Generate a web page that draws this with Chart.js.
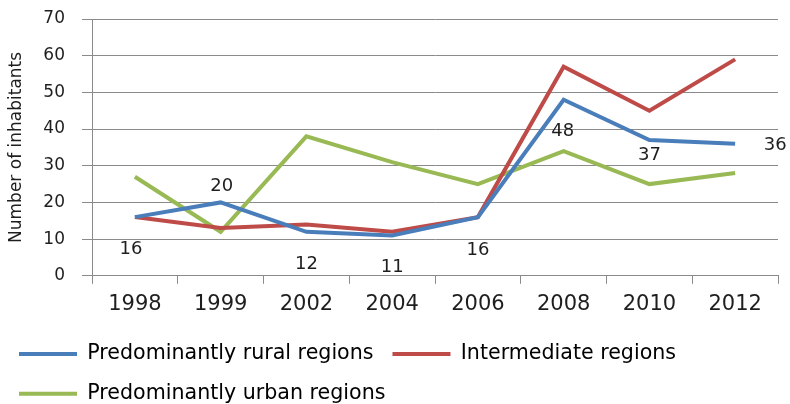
<!DOCTYPE html>
<html>
<head>
<meta charset="utf-8">
<script src="https://cdn.jsdelivr.net/npm/chart.js@4/dist/chart.umd.min.js"></script>
<style>
  html, body { margin: 0; padding: 0; background: #ffffff; overflow: hidden; }
  #wrap { width: 790px; height: 404px; position: relative; }
</style>
</head>
<body>
<div id="wrap"><canvas id="c" width="790" height="404"></canvas></div>
<script>
// ---- data ----
const years = ["1998", "1999", "2002", "2004", "2006", "2008", "2010", "2012"];
const rural = [16, 20, 12, 11, 16, 48, 37, 36];
const intermediate = [16, 13, 14, 12, 16, 57, 45, 59];
const urban = [27, 12, 38, 31, 25, 34, 25, 28];
const seriesNames = ["Predominantly rural regions", "Intermediate regions", "Predominantly urban regions"];
const yTicks = [0, 10, 20, 30, 40, 50, 60, 70];
const yTitle = "Number of inhabitants";

// ---- styles ----
const FONT = "'DejaVu Sans', Verdana, sans-serif";
const GRID = "#8a8a8a";
// label offsets (dx, dy) for the rural series value labels
const labelOffsets = [[-4, 32], [1, -16], [0, 33], [0, 32], [0, 33], [-1, 32], [0, 15], [40, 2]];

const valueLabels = {
  id: 'valueLabels',
  afterDatasetsDraw(chart) {
    const meta = chart.getDatasetMeta(0);
    const ds = chart.data.datasets[0];
    const ctx = chart.ctx;
    ctx.save();
    ctx.font = "18px " + FONT;
    ctx.fillStyle = "#1e1e1e";
    ctx.textAlign = "center";
    ctx.textBaseline = "middle";
    meta.data.forEach((pt, i) => {
      const off = labelOffsets[i] || [0, 0];
      ctx.fillText(String(ds.data[i]), pt.x + off[0], pt.y + off[1]);
    });
    ctx.restore();
  }
};

new Chart(document.getElementById('c'), {
  type: 'line',
  data: {
    labels: years,
    datasets: [
      { label: seriesNames[0], data: rural, borderColor: '#4A7EBB', backgroundColor: '#4A7EBB' },
      { label: seriesNames[1], data: intermediate, borderColor: '#BE4B48', backgroundColor: '#BE4B48' },
      { label: seriesNames[2], data: urban, borderColor: '#98B954', backgroundColor: '#98B954' }
    ]
  },
  options: {
    responsive: false,
    animation: false,
    devicePixelRatio: 1,
    layout: { padding: { left: 0, right: 12, top: 19, bottom: -10 } },
    elements: {
      line: { borderWidth: 4, tension: 0, borderJoinStyle: 'miter', borderCapStyle: 'butt' },
      point: { radius: 0, hoverRadius: 0 }
    },
    plugins: {
      legend: {
        position: 'bottom',
        align: 'start',
        labels: {
          boxWidth: 58,
          boxHeight: 4,
          padding: 19,
          color: '#1e1e1e',
          font: { family: FONT, size: 20.6 },
          generateLabels(chart) {
            return chart.data.datasets.map((d, i) => ({
              text: d.label, fillStyle: d.borderColor, strokeStyle: d.borderColor,
              lineWidth: 0, hidden: false, datasetIndex: i
            }));
          }
        }
      },
      tooltip: { enabled: false }
    },
    scales: {
      x: {
        type: 'category',
        offset: true,
        grid: { offset: true, drawOnChartArea: false, drawTicks: true, tickLength: 8, color: GRID },
        border: { color: GRID, width: 1 },
        ticks: { color: '#1e1e1e', font: { family: FONT, size: 21 }, padding: 8, maxRotation: 0, autoSkip: false },
        afterFit(scale) { scale.height = 49; }
      },
      y: {
        min: yTicks[0],
        max: yTicks[yTicks.length - 1],
        afterBuildTicks(scale) { scale.ticks = yTicks.map(v => ({ value: v })); },
        grid: { color: GRID, lineWidth: 1, drawTicks: true, tickLength: 10 },
        border: { color: GRID, width: 1 },
        ticks: { color: '#1e1e1e', font: { family: FONT, size: 17 }, padding: 17 },
        title: { display: true, text: yTitle, color: '#1e1e1e', font: { family: FONT, size: 17 }, padding: { top: 6, bottom: 0 } },
        afterFit(scale) { scale.width = 92; scale.paddingTop = 10; scale.paddingBottom = 10; }
      }
    }
  },
  plugins: [valueLabels]
});
</script>
</body>
</html>
